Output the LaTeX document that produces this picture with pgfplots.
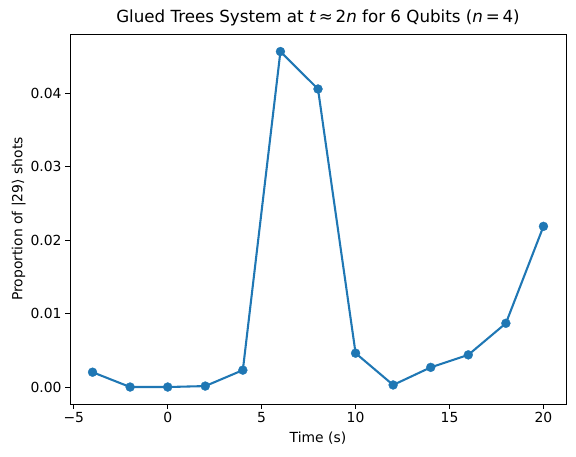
\documentclass[border=0pt]{standalone}
\usepackage{pgfplots}
\pgfplotsset{compat=1.18}
\usepackage{fontspec}
\setmainfont{DejaVu Sans}
\definecolor{tabblue}{HTML}{1F77B4}
\begin{document}
\begin{tikzpicture}
\useasboundingbox (-70pt,-53pt) rectangle (506pt,404pt);
\begin{axis}[
  scale only axis,
  width=496pt, height=370pt,
  xmin=-5.2, xmax=21.2,
  ymin=-0.00229, ymax=0.04809,
  xtick={-5,0,5,10,15,20},
  xticklabels={−5,0,5,10,15,20},
  ytick={0,0.01,0.02,0.03,0.04},
  scaled y ticks=false,
  yticklabel style={/pgf/number format/.cd, fixed, fixed zerofill, precision=2},
  /pgf/number format/assume math mode=true,
  tick align=outside,
  major tick length=4.9pt,
  tick style={black, line width=0.8pt},
  xtick pos=bottom, ytick pos=left,
  axis line style={line width=0.8pt},
  ticklabel style={font=\fontsize{13.9}{16}\selectfont},
  label style={font=\fontsize{13.9}{16}\selectfont},
  xlabel={Time (s)},
  ylabel={Proportion of |29⟩ shots},
  title={Glued Trees System at \textit{t}\,≈\,2\textit{n} for 6 Qubits (\textit{n}\,=\,4)},
  title style={font=\fontsize{16.7}{19}\selectfont, yshift=-2pt},
  xlabel style={yshift=-2pt},
  ylabel style={yshift=-2pt},
]
\addplot[color=tabblue, line width=2.08pt, mark=*, mark size=4.5pt, mark options={solid, fill=tabblue, draw=tabblue, line width=0.3pt}]
coordinates {
(-4,0.00204) (-2,0.00002) (0,0.00002) (2,0.00015) (4,0.00232)
(6,0.0457) (8,0.0406) (10,0.00463) (12,0.0003) (14,0.0027)
(16,0.0044) (18,0.0087) (20,0.0219)
};
\end{axis}
\end{tikzpicture}
\end{document}
